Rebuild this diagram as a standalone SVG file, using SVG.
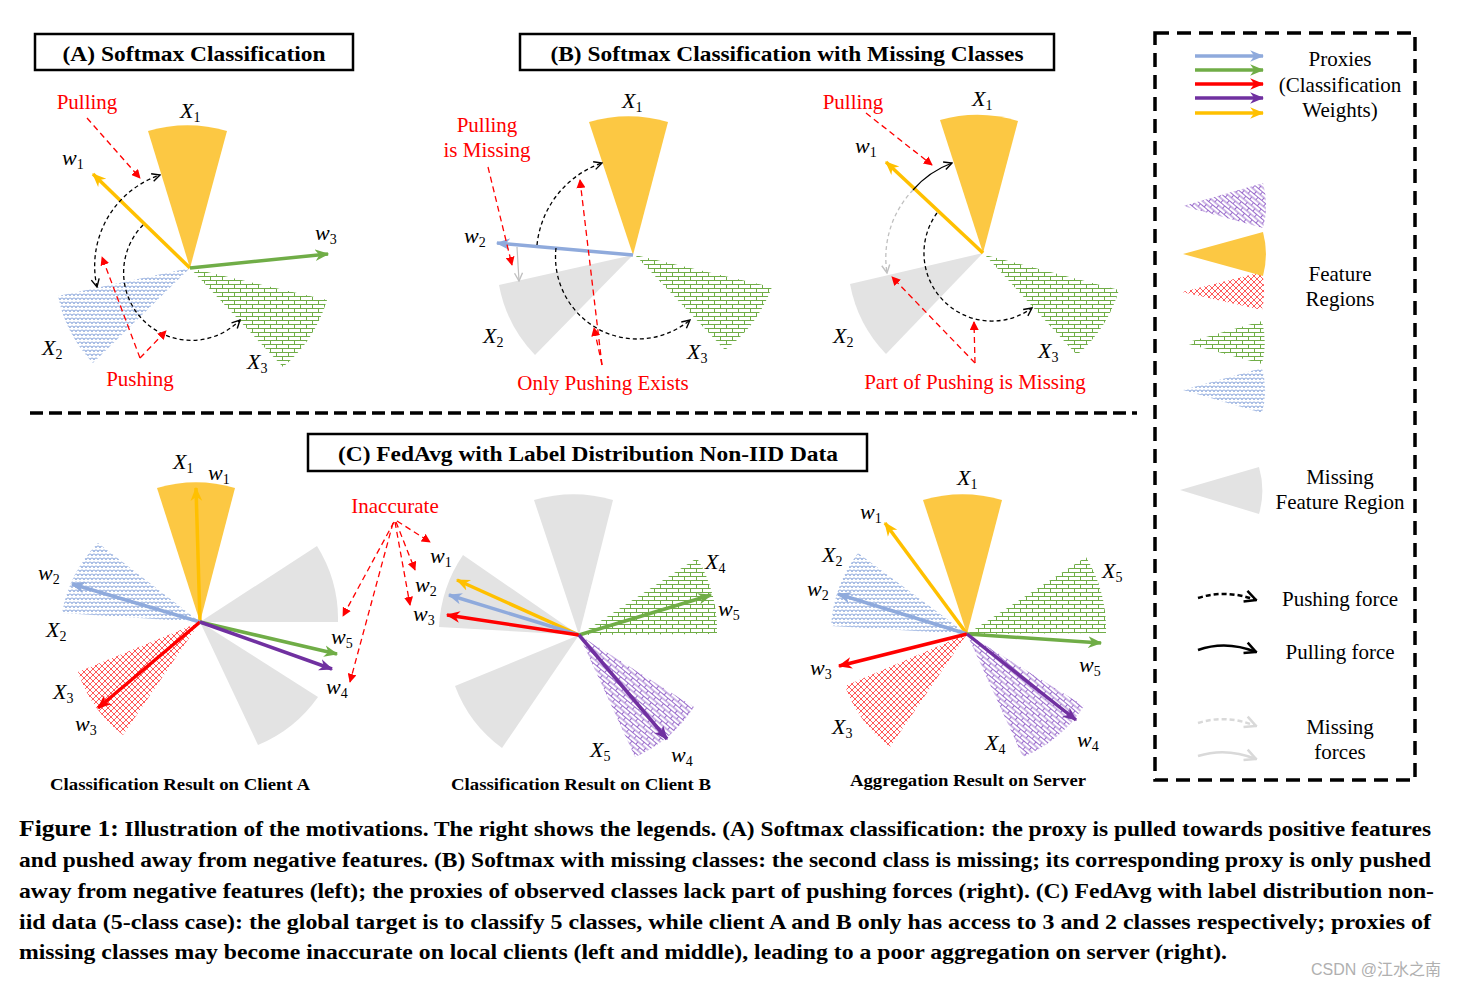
<svg xmlns="http://www.w3.org/2000/svg" width="1463" height="987" viewBox="0 0 1463 987">
<style>
.serif{font-family:"Liberation Serif",serif}
.red{font-family:"Liberation Serif",serif;fill:#ff0000;font-size:21px;text-anchor:middle}
.m{font-family:"Liberation Serif",serif;font-style:italic;font-size:22px;fill:#000}
.m tspan{font-style:normal;font-size:14px}
.title{font-family:"Liberation Serif",serif;font-weight:bold;font-size:21px;text-anchor:middle}
.sub{font-family:"Liberation Serif",serif;font-weight:bold;font-size:17px;text-anchor:middle}
.leg{font-family:"Liberation Serif",serif;font-size:21px;text-anchor:middle}
.cap{font-family:"Liberation Serif",serif;font-weight:bold;font-size:21px}
.box{fill:none;stroke:#000;stroke-width:2.5}
.gray{fill:#e3e3e3}
.yel{fill:#fcc843}
.px{stroke-width:3.5;fill:none}
.force{fill:none;stroke:#000;stroke-width:1.3;stroke-dasharray:4 3}
.rdash{fill:none;stroke:#ff0000;stroke-width:1.3;stroke-dasharray:6 4}
</style>
<defs>
<pattern id="pB" width="8" height="8" patternUnits="userSpaceOnUse"><path d="M0,4 A2,2 0 0 1 4,4 A2,2 0 0 1 8,4 M-2,8 A2,2 0 0 1 2,8 A2,2 0 0 1 6,8 A2,2 0 0 1 10,8 M-2,0 A2,2 0 0 1 2,0 A2,2 0 0 1 6,0 A2,2 0 0 1 10,0" fill="none" stroke="#8faadc" stroke-width="1"/></pattern>
<pattern id="pG" width="12" height="8" patternUnits="userSpaceOnUse"><path d="M0,0.5 H12 M0,4.5 H12 M0.5,0.5 V4.5 M6.5,4.5 V8.5" fill="none" stroke="#70ad47" stroke-width="1"/></pattern>
<pattern id="pR" width="6" height="6" patternUnits="userSpaceOnUse"><path d="M0,0 L6,6 M6,0 L0,6" fill="none" stroke="#ff5a5a" stroke-width="1"/></pattern>
<pattern id="pP" width="10" height="7" patternUnits="userSpaceOnUse" patternTransform="rotate(40)"><path d="M0,0.5 H10 M0,4 H10 M0.5,0.5 V4 M5.5,4 V7.5" fill="none" stroke="#9a6ccc" stroke-width="1"/></pattern>
<marker id="aY" viewBox="0 0 12 12" refX="11" refY="6" markerWidth="14" markerHeight="14" markerUnits="userSpaceOnUse" orient="auto"><path d="M0,1 L12,6 L0,11 L3.5,6 Z" fill="#ffc000"/></marker>
<marker id="aB" viewBox="0 0 12 12" refX="11" refY="6" markerWidth="14" markerHeight="14" markerUnits="userSpaceOnUse" orient="auto"><path d="M0,1 L12,6 L0,11 L3.5,6 Z" fill="#8faadc"/></marker>
<marker id="aG" viewBox="0 0 12 12" refX="11" refY="6" markerWidth="14" markerHeight="14" markerUnits="userSpaceOnUse" orient="auto"><path d="M0,1 L12,6 L0,11 L3.5,6 Z" fill="#70ad47"/></marker>
<marker id="aR" viewBox="0 0 12 12" refX="11" refY="6" markerWidth="14" markerHeight="14" markerUnits="userSpaceOnUse" orient="auto"><path d="M0,1 L12,6 L0,11 L3.5,6 Z" fill="#ff0000"/></marker>
<marker id="aP" viewBox="0 0 12 12" refX="11" refY="6" markerWidth="14" markerHeight="14" markerUnits="userSpaceOnUse" orient="auto"><path d="M0,1 L12,6 L0,11 L3.5,6 Z" fill="#7030a0"/></marker>
<marker id="fk" viewBox="0 0 10 10" refX="9" refY="5" markerWidth="10" markerHeight="10" markerUnits="userSpaceOnUse" orient="auto-start-reverse"><path d="M1,1 L9,5 L1,9" fill="none" stroke="#000" stroke-width="1.4"/></marker>
<marker id="fg" viewBox="0 0 10 10" refX="9" refY="5" markerWidth="10" markerHeight="10" markerUnits="userSpaceOnUse" orient="auto"><path d="M1,1 L9,5 L1,9" fill="none" stroke="#c0c0c0" stroke-width="1.4"/></marker>
<marker id="fkL" viewBox="0 0 10 10" refX="9" refY="5" markerWidth="14" markerHeight="14" markerUnits="userSpaceOnUse" orient="auto"><path d="M1,1 L9,5 L1,9" fill="none" stroke="#000" stroke-width="1.8"/></marker>
<marker id="fgL" viewBox="0 0 10 10" refX="9" refY="5" markerWidth="14" markerHeight="14" markerUnits="userSpaceOnUse" orient="auto"><path d="M1,1 L9,5 L1,9" fill="none" stroke="#d9d9d9" stroke-width="1.8"/></marker>
<marker id="rd" viewBox="0 0 10 10" refX="9" refY="5" markerWidth="9" markerHeight="9" markerUnits="userSpaceOnUse" orient="auto"><path d="M0,0 L10,5 L0,10 Z" fill="#ff0000"/></marker>
</defs>
<rect width="1463" height="987" fill="#fff"/>

<!-- Panel A -->
<g id="panelA">
<rect class="box" x="35" y="34" width="318" height="36"/>
<text class="title" x="194" y="61" textLength="263" lengthAdjust="spacingAndGlyphs">(A) Softmax Classification</text>
<path d="M190,268 L148,131 A143,143 0 0 1 227,131 Z" class="yel"/>
<path d="M190,268 L58,296 A135,135 0 0 0 93,363 Z" fill="url(#pB)"/>
<path d="M190,268 L327,300 A140,140 0 0 1 283,367 Z" fill="url(#pG)"/>
<text class="red" x="87" y="109">Pulling</text>
<text class="red" x="140" y="386">Pushing</text>
<text class="m" x="180" y="118">X<tspan dy="4">1</tspan></text>
<text class="m" x="62" y="165">w<tspan dy="4">1</tspan></text>
<text class="m" x="315" y="240">w<tspan dy="4">3</tspan></text>
<text class="m" x="42" y="355">X<tspan dy="4">2</tspan></text>
<text class="m" x="247" y="369">X<tspan dy="4">3</tspan></text>
</g>

<!-- Panel B -->
<g id="panelB">
<rect class="box" x="520" y="34" width="534" height="36"/>
<text class="title" x="787" y="61" textLength="473" lengthAdjust="spacingAndGlyphs">(B) Softmax Classification with Missing Classes</text>
<path d="M633,255 L589,122 A140,140 0 0 1 668,122 Z" class="yel"/>
<path d="M633,255 L499,285 A137,137 0 0 0 535,355 Z" class="gray"/>
<path d="M635,255 L772,287 A138,138 0 0 1 725,350 Z" fill="url(#pG)"/>
<text class="red" x="487" y="132">Pulling</text>
<text class="red" x="487" y="157">is Missing</text>
<text class="red" x="603" y="390">Only Pushing Exists</text>
<text class="m" x="622" y="108">X<tspan dy="4">1</tspan></text>
<text class="m" x="464" y="243">w<tspan dy="4">2</tspan></text>
<text class="m" x="483" y="343">X<tspan dy="4">2</tspan></text>
<text class="m" x="687" y="359">X<tspan dy="4">3</tspan></text>

<path d="M983,253 L940,120 A140,140 0 0 1 1018,121 Z" class="yel"/>
<path d="M983,253 L850,284 A137,137 0 0 0 886,354 Z" class="gray"/>
<path d="M985,255 L1119,290 A138,138 0 0 1 1077,355 Z" fill="url(#pG)"/>
<text class="red" x="853" y="109">Pulling</text>
<text class="red" x="975" y="389">Part of Pushing is Missing</text>
<text class="m" x="972" y="106">X<tspan dy="4">1</tspan></text>
<text class="m" x="855" y="153">w<tspan dy="4">1</tspan></text>
<text class="m" x="833" y="343">X<tspan dy="4">2</tspan></text>
<text class="m" x="1038" y="358">X<tspan dy="4">3</tspan></text>
</g>

<path d="M30,413 H1137" stroke="#000" stroke-width="3.5" stroke-dasharray="13 6" fill="none"/>

<!-- Panel C -->
<g id="panelC">
<rect class="box" x="308" y="434" width="559" height="37"/>
<text class="title" x="588" y="461" textLength="500" lengthAdjust="spacingAndGlyphs">(C) FedAvg with Label Distribution Non-IID Data</text>

<path d="M200,622 L157,488 A140,140 0 0 1 235,488 Z" class="yel"/>
<path d="M200,622 L98,543 A134,134 0 0 0 62,613 Z" fill="url(#pB)"/>
<path d="M200,622 L78,672 A133,133 0 0 0 123,735 Z" fill="url(#pR)"/>
<path d="M200,622 L317,546 A138,138 0 0 1 338,622 Z" class="gray"/>
<path d="M200,622 L318,697 A138,138 0 0 1 258,745 Z" class="gray"/>
<text class="m" x="173" y="469">X<tspan dy="4">1</tspan></text>
<text class="m" x="208" y="480">w<tspan dy="4">1</tspan></text>
<text class="m" x="38" y="580">w<tspan dy="4">2</tspan></text>
<text class="m" x="46" y="637">X<tspan dy="4">2</tspan></text>
<text class="m" x="53" y="699">X<tspan dy="4">3</tspan></text>
<text class="m" x="75" y="731">w<tspan dy="4">3</tspan></text>
<text class="m" x="331" y="644">w<tspan dy="4">5</tspan></text>
<text class="m" x="326" y="694">w<tspan dy="4">4</tspan></text>
<text class="sub" x="180" y="790" textLength="260" lengthAdjust="spacingAndGlyphs">Classification Result on Client A</text>

<path d="M579,635 L534,500 A140,140 0 0 1 613,500 Z" class="gray"/>
<path d="M579,635 L463,555 A140,140 0 0 0 439,627 Z" class="gray"/>
<path d="M579,635 L455,686 A135,135 0 0 0 502,748 Z" class="gray"/>
<path d="M579,635 L697,558 A140,140 0 0 1 717,634 Z" fill="url(#pG)"/>
<path d="M579,635 L694,707 A135,135 0 0 1 635,757 Z" fill="url(#pP)"/>
<text class="red" x="395" y="513">Inaccurate</text>
<text class="m" x="430" y="563">w<tspan dy="4">1</tspan></text>
<text class="m" x="415" y="592">w<tspan dy="4">2</tspan></text>
<text class="m" x="413" y="621">w<tspan dy="4">3</tspan></text>
<text class="m" x="705" y="569">X<tspan dy="4">4</tspan></text>
<text class="m" x="718" y="616">w<tspan dy="4">5</tspan></text>
<text class="m" x="590" y="757">X<tspan dy="4">5</tspan></text>
<text class="m" x="671" y="762">w<tspan dy="4">4</tspan></text>
<text class="sub" x="581" y="790" textLength="260" lengthAdjust="spacingAndGlyphs">Classification Result on Client B</text>

<path d="M967,634 L923,500 A140,140 0 0 1 1002,500 Z" class="yel"/>
<path d="M967,634 L858,553 A136,136 0 0 0 831,626 Z" fill="url(#pB)"/>
<path d="M967,634 L845,686 A134,134 0 0 0 890,747 Z" fill="url(#pR)"/>
<path d="M967,634 L1084,706 A137,137 0 0 1 1023,757 Z" fill="url(#pP)"/>
<path d="M967,634 L1086,557 A140,140 0 0 1 1106,633 Z" fill="url(#pG)"/>
<text class="m" x="957" y="485">X<tspan dy="4">1</tspan></text>
<text class="m" x="860" y="519">w<tspan dy="4">1</tspan></text>
<text class="m" x="822" y="562">X<tspan dy="4">2</tspan></text>
<text class="m" x="807" y="596">w<tspan dy="4">2</tspan></text>
<text class="m" x="810" y="675">w<tspan dy="4">3</tspan></text>
<text class="m" x="832" y="734">X<tspan dy="4">3</tspan></text>
<text class="m" x="985" y="750">X<tspan dy="4">4</tspan></text>
<text class="m" x="1077" y="747">w<tspan dy="4">4</tspan></text>
<text class="m" x="1102" y="578">X<tspan dy="4">5</tspan></text>
<text class="m" x="1079" y="672">w<tspan dy="4">5</tspan></text>
<text class="sub" x="968" y="786" textLength="236" lengthAdjust="spacingAndGlyphs">Aggregation Result on Server</text>
</g>

<!-- Connectors -->
<g id="connectors">
<path class="px" stroke="#ffc000" d="M190,268 L93,174" marker-end="url(#aY)"/>
<path class="px" stroke="#70ad47" d="M190,268 L328,254" marker-end="url(#aG)"/>
<path class="force" d="M97,287 A96,96 0 0 1 160,175" marker-start="url(#fk)" marker-end="url(#fk)"/>
<path class="force" d="M143,225 A66,66 0 0 0 240,320" marker-end="url(#fk)"/>
<path class="rdash" d="M87,118 L140,178" marker-end="url(#rd)"/>
<path class="rdash" d="M140,358 L102,257" marker-end="url(#rd)"/>
<path class="rdash" d="M140,358 L166,331" marker-end="url(#rd)"/>

<path class="px" stroke="#8faadc" d="M633,255 L497,243" marker-end="url(#aB)"/>
<path class="force" d="M537,245 A97,97 0 0 1 602,163" marker-end="url(#fk)"/>
<path class="force" d="M556,248 A82,82 0 0 0 690,320" marker-end="url(#fk)"/>
<path d="M517,247 L519,281" stroke="#c0c0c0" stroke-width="1.2" fill="none" marker-end="url(#fg)"/>
<path class="rdash" d="M488,167 L512,265" marker-end="url(#rd)"/>
<path class="rdash" d="M602,365 L580,180" marker-end="url(#rd)"/>
<path class="rdash" d="M602,365 L594,328" marker-end="url(#rd)"/>

<path class="px" stroke="#ffc000" d="M983,253 L886,162" marker-end="url(#aY)"/>
<path d="M913,190 A95,95 0 0 1 952,163" fill="none" stroke="#000" stroke-width="1.3" marker-end="url(#fk)"/>
<path d="M913,190 A98,98 0 0 0 887,273" fill="none" stroke="#c0c0c0" stroke-width="1.3" stroke-dasharray="4 3" marker-end="url(#fg)"/>
<path class="force" d="M937,213 A68,68 0 0 0 1032,308" marker-end="url(#fk)"/>
<path class="rdash" d="M866,113 L932,165" marker-end="url(#rd)"/>
<path class="rdash" d="M975,363 L892,277" marker-end="url(#rd)"/>
<path class="rdash" d="M975,363 L974,322" marker-end="url(#rd)"/>

<path class="px" stroke="#ffc000" d="M200,622 L196,488" marker-end="url(#aY)"/>
<path class="px" stroke="#8faadc" d="M200,622 L72,584" marker-end="url(#aB)"/>
<path class="px" stroke="#ff0000" d="M200,622 L98,708" marker-end="url(#aR)"/>
<path class="px" stroke="#70ad47" d="M200,622 L337,654" marker-end="url(#aG)"/>
<path class="px" stroke="#7030a0" d="M200,622 L332,669" marker-end="url(#aP)"/>

<path class="px" stroke="#ffc000" d="M579,635 L457,580" marker-end="url(#aY)"/>
<path class="px" stroke="#8faadc" d="M579,635 L449,595" marker-end="url(#aB)"/>
<path class="px" stroke="#ff0000" d="M579,635 L447,615" marker-end="url(#aR)"/>
<path class="px" stroke="#70ad47" d="M579,635 L711,595" marker-end="url(#aG)"/>
<path class="px" stroke="#7030a0" d="M579,635 L667,739" marker-end="url(#aP)"/>
<path class="rdash" d="M397,521 L430,542" marker-end="url(#rd)"/>
<path class="rdash" d="M396,522 L415,570" marker-end="url(#rd)"/>
<path class="rdash" d="M395,522 L410,605" marker-end="url(#rd)"/>
<path class="rdash" d="M394,522 L343,616" marker-end="url(#rd)"/>
<path class="rdash" d="M393,523 L350,682" marker-end="url(#rd)"/>

<path class="px" stroke="#ffc000" d="M967,634 L885,523" marker-end="url(#aY)"/>
<path class="px" stroke="#8faadc" d="M967,634 L838,594" marker-end="url(#aB)"/>
<path class="px" stroke="#ff0000" d="M967,634 L839,666" marker-end="url(#aR)"/>
<path class="px" stroke="#70ad47" d="M967,634 L1101,643" marker-end="url(#aG)"/>
<path class="px" stroke="#7030a0" d="M967,634 L1076,720" marker-end="url(#aP)"/>
</g>

<!-- Legend -->
<g id="legend">
<rect x="1155" y="33" width="260" height="747" fill="none" stroke="#000" stroke-width="3.5" stroke-dasharray="14 8"/>
<path class="px" stroke="#8faadc" d="M1195,56 L1263,56" marker-end="url(#aB)"/>
<path class="px" stroke="#70ad47" d="M1195,70 L1263,70" marker-end="url(#aG)"/>
<path class="px" stroke="#ff0000" d="M1195,84 L1263,84" marker-end="url(#aR)"/>
<path class="px" stroke="#7030a0" d="M1195,98 L1263,98" marker-end="url(#aP)"/>
<path class="px" stroke="#ffc000" d="M1195,113 L1263,113" marker-end="url(#aY)"/>
<text class="leg" x="1340" y="66">Proxies</text>
<text class="leg" x="1340" y="92">(Classification</text>
<text class="leg" x="1340" y="117">Weights)</text>
<path d="M1183,206 L1263,183 A85,85 0 0 1 1263,228 Z" fill="url(#pP)"/>
<path d="M1182,292 L1262,272 A85,85 0 0 1 1262,310 Z" fill="url(#pR)"/>
<path d="M1183,254 L1263,232 A85,85 0 0 1 1263,276 Z" class="yel"/>
<path d="M1185,343 L1262,321 A85,85 0 0 1 1262,364 Z" fill="url(#pG)"/>
<path d="M1183,390 L1262,368 A85,85 0 0 1 1262,413 Z" fill="url(#pB)"/>
<text class="leg" x="1340" y="281">Feature</text>
<text class="leg" x="1340" y="306">Regions</text>
<path d="M1180,490 L1259,467 A85,85 0 0 1 1259,514 Z" class="gray"/>
<text class="leg" x="1340" y="484">Missing</text>
<text class="leg" x="1340" y="509">Feature Region</text>
<path d="M1198,598 Q1226,589 1256,600" fill="none" stroke="#000" stroke-width="2.5" stroke-dasharray="5 3" marker-end="url(#fkL)"/>
<text class="leg" x="1340" y="606">Pushing force</text>
<path d="M1198,650 Q1226,640 1256,652" fill="none" stroke="#000" stroke-width="2.5" marker-end="url(#fkL)"/>
<text class="leg" x="1340" y="659">Pulling force</text>
<path d="M1198,723 Q1226,714 1256,726" fill="none" stroke="#d9d9d9" stroke-width="2.5" stroke-dasharray="5 3" marker-end="url(#fgL)"/>
<path d="M1198,756 Q1226,747 1256,759" fill="none" stroke="#d9d9d9" stroke-width="2.5" marker-end="url(#fgL)"/>
<text class="leg" x="1340" y="734">Missing</text>
<text class="leg" x="1340" y="759">forces</text>
</g>

<!-- Caption -->
<g id="caption">
<text class="cap" x="19" y="836" textLength="1412" lengthAdjust="spacingAndGlyphs"><tspan font-size="23">Figure 1:</tspan> Illustration of the motivations. The right shows the legends. (A) Softmax classification: the proxy is pulled towards positive features</text>
<text class="cap" x="19" y="867" textLength="1412" lengthAdjust="spacingAndGlyphs">and pushed away from negative features. (B) Softmax with missing classes: the second class is missing; its corresponding proxy is only pushed</text>
<text class="cap" x="19" y="898" textLength="1415" lengthAdjust="spacingAndGlyphs">away from negative features (left); the proxies of observed classes lack part of pushing forces (right). (C) FedAvg with label distribution non-</text>
<text class="cap" x="19" y="929" textLength="1412" lengthAdjust="spacingAndGlyphs">iid data (5-class case): the global target is to classify 5 classes, while client A and B only has access to 3 and 2 classes respectively; proxies of</text>
<text class="cap" x="19" y="959" textLength="1208" lengthAdjust="spacingAndGlyphs">missing classes may become inaccurate on local clients (left and middle), leading to a poor aggregation on server (right).</text>
<text x="1311" y="975" font-family="'Liberation Sans','Noto Sans CJK SC',sans-serif" font-size="16" fill="#b0b0b0">CSDN @江水之南</text>
</g>
</svg>
